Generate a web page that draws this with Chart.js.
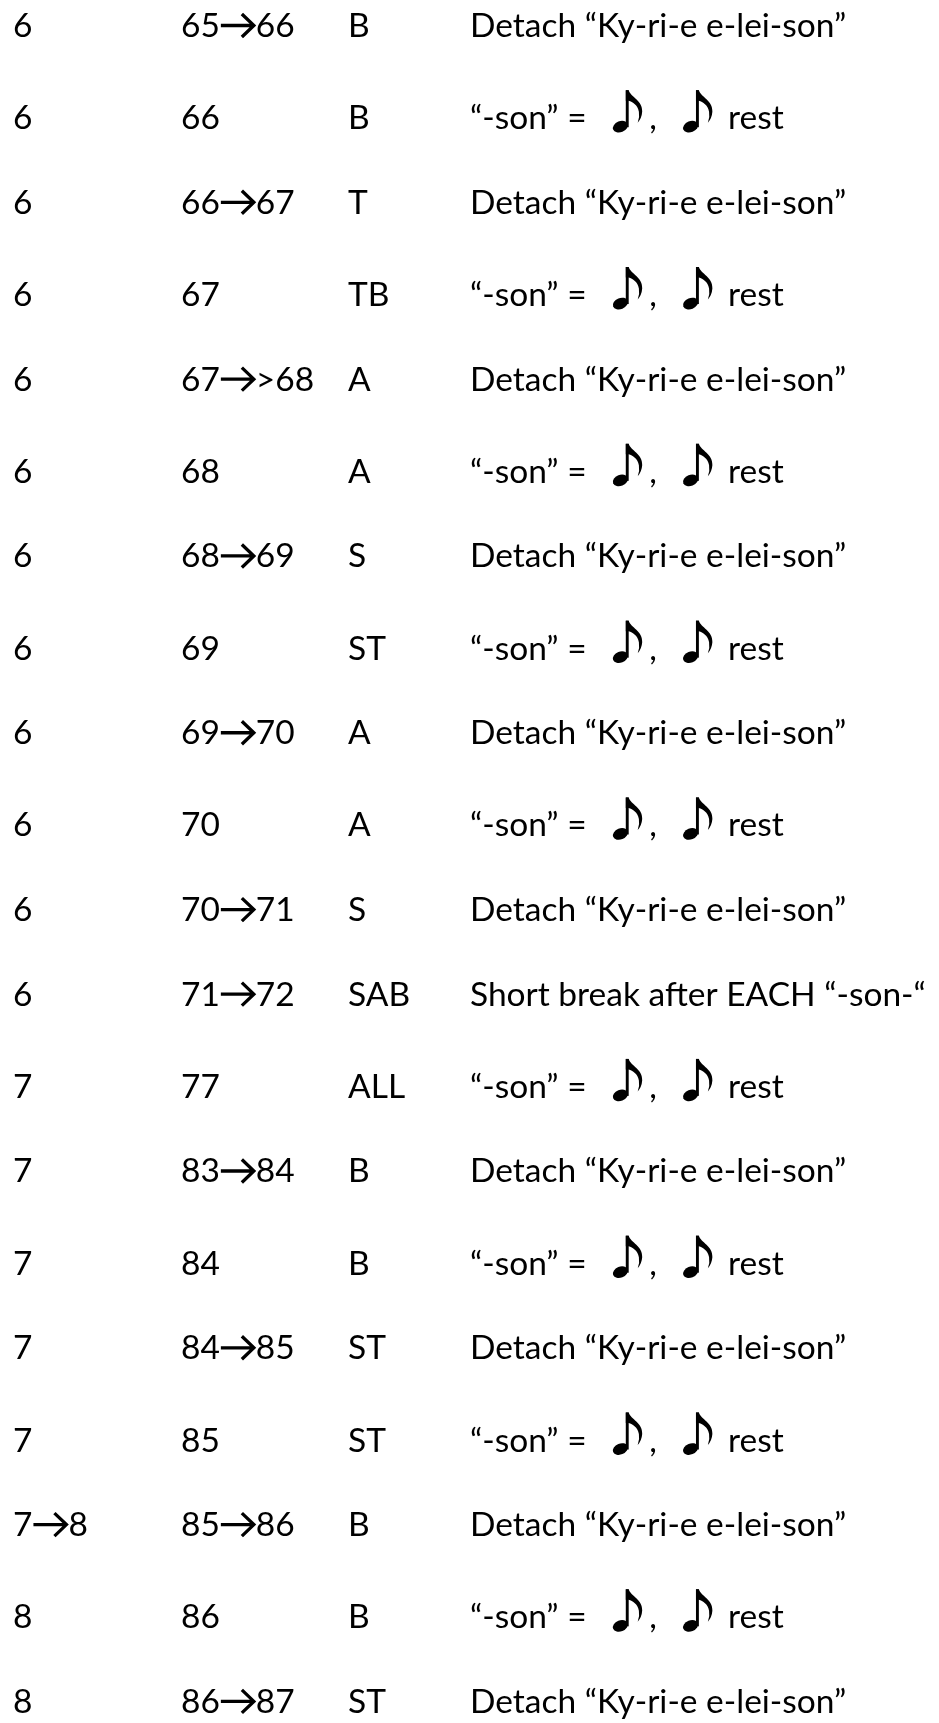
<!DOCTYPE html>
<html>
<head>
<meta charset="utf-8">
<script src="https://cdn.jsdelivr.net/npm/chart.js@4.4.0/dist/chart.umd.min.js"></script>
<style>
  html, body { margin: 0; padding: 0; background: #ffffff; }
  #wrap { width: 939px; height: 1723px; position: relative; }
</style>
</head>
<body>
<div id="wrap"><canvas id="sheet"></canvas></div>
<script>
// rehearsal notes, one entry per row
const sections = ['6', '6', '6', '6', '6', '6', '6', '6', '6', '6', '6', '6',
                  '7', '7', '7', '7', '7', '7→8', '8', '8'];
const measures = ['65→66', '66', '66→67', '67', '67→>68', '68', '68→69', '69', '69→70', '70',
                  '70→71', '71→72', '77', '83→84', '84', '84→85', '85', '85→86', '86', '86→87'];
const voices = ['B', 'B', 'T', 'TB', 'A', 'A', 'S', 'ST', 'A', 'A',
                'S', 'SAB', 'ALL', 'B', 'B', 'ST', 'ST', 'B', 'B', 'ST'];
const DETACH = 'Detach “Ky-ri-e e-lei-son”';
const SON = '“-son” = ♪, ♪ rest';
const remarks = [DETACH, SON, DETACH, SON, DETACH, SON, DETACH, SON, DETACH, SON,
                 DETACH, 'Short break after EACH “-son-“', SON, DETACH, SON, DETACH, SON, DETACH, SON, DETACH];

const columns = [sections, measures, voices, remarks];

// layout / style
const TAB_STOPS = [13, 181, 348, 470];
const TEXT_FONT = '33.5px Lato';
const NOTE_LINE = 1.09;   // rows holding a note glyph are a little taller
const ARROW_W = 36;
const NOTE_W = 54;
const NOTE_INK = 18;

// row positions in "line" units, taller when the row holds a note
const rowLines = [];
remarks.forEach((r, i) => {
    if (i === 0) { rowLines.push(0); return; }
    rowLines.push(rowLines[i - 1] + (r.includes('♪') ? NOTE_LINE : 1));
});

const datasets = columns.map((col, c) => ({
    label: 'col' + c,
    data: col.map((txt, i) => ({ x: TAB_STOPS[c], y: rowLines[i], txt: txt })),
    pointRadius: 0,
    showLine: false
}));

function drawArrow(ctx, x, y) {
    ctx.save();
    ctx.strokeStyle = '#000';
    ctx.lineWidth = 3.3;
    ctx.lineJoin = 'miter';
    ctx.beginPath();
    ctx.moveTo(x + 1, y - 11.5);
    ctx.lineTo(x + 34, y - 11.5);
    ctx.moveTo(x + 22, y - 23);
    ctx.lineTo(x + 34, y - 11.5);
    ctx.lineTo(x + 22, y);
    ctx.stroke();
    ctx.restore();
}

// eighth note, drawn by hand so it looks like the word-processor glyph
function drawNote(ctx, x, y) {
    const ox = x + NOTE_INK;
    ctx.save();
    ctx.fillStyle = '#000';
    ctx.beginPath();
    ctx.ellipse(ox + 7.2, y - 2.5, 7.8, 5.5, -0.38, 0, Math.PI * 2);
    ctx.fill();
    ctx.fillRect(ox + 12.6, y - 39, 2.9, 37);
    ctx.beginPath();
    ctx.moveTo(ox + 12.6, y - 39);
    ctx.lineTo(ox + 15.5, y - 39);
    ctx.bezierCurveTo(ox + 17.5, y - 32, ox + 29.5, y - 29, ox + 29, y - 17.5);
    ctx.quadraticCurveTo(ox + 28.5, y - 11, ox + 24.5, y - 6.5);
    ctx.quadraticCurveTo(ox + 26.7, y - 12.5, ox + 25.7, y - 17.5);
    ctx.bezierCurveTo(ox + 24.5, y - 24.5, ox + 19.5, y - 27, ox + 15.5, y - 28.5);
    ctx.lineTo(ox + 12.6, y - 28.5);
    ctx.closePath();
    ctx.fill();
    ctx.restore();
}

function drawRun(ctx, text, x, y) {
    text.split(/(→|♪)/).forEach(part => {
        if (!part) return;
        if (part === '→') {
            drawArrow(ctx, x, y);
            x += ARROW_W;
        } else if (part === '♪') {
            drawNote(ctx, x, y);
            x += NOTE_W;
        } else {
            ctx.font = TEXT_FONT;
            ctx.fillText(part, x, y);
            x += ctx.measureText(part).width;
        }
    });
}

const textTable = {
    id: 'textTable',
    afterDatasetsDraw(chart) {
        const ctx = chart.ctx;
        const xs = chart.scales.x, ys = chart.scales.y;
        ctx.save();
        ctx.fillStyle = '#000';
        ctx.textBaseline = 'alphabetic';
        ctx.textAlign = 'left';
        chart.data.datasets.forEach(ds => {
            ds.data.forEach(pt => {
                drawRun(ctx, pt.txt, xs.getPixelForValue(pt.x), ys.getPixelForValue(pt.y));
            });
        });
        ctx.restore();
    }
};

const lineStep = 84.6;
new Chart(document.getElementById('sheet'), {
    type: 'scatter',
    data: { datasets: datasets },
    options: {
        responsive: true,
        maintainAspectRatio: false,
        animation: false,
        events: [],
        layout: { padding: 0 },
        plugins: { legend: { display: false }, tooltip: { enabled: false } },
        scales: {
            x: { type: 'linear', display: false, min: 0, max: 939 },
            y: { type: 'linear', display: false, reverse: true,
                 min: -37 / lineStep, max: (1723 - 37) / lineStep }
        }
    },
    plugins: [textTable]
});
</script>
</body>
</html>
